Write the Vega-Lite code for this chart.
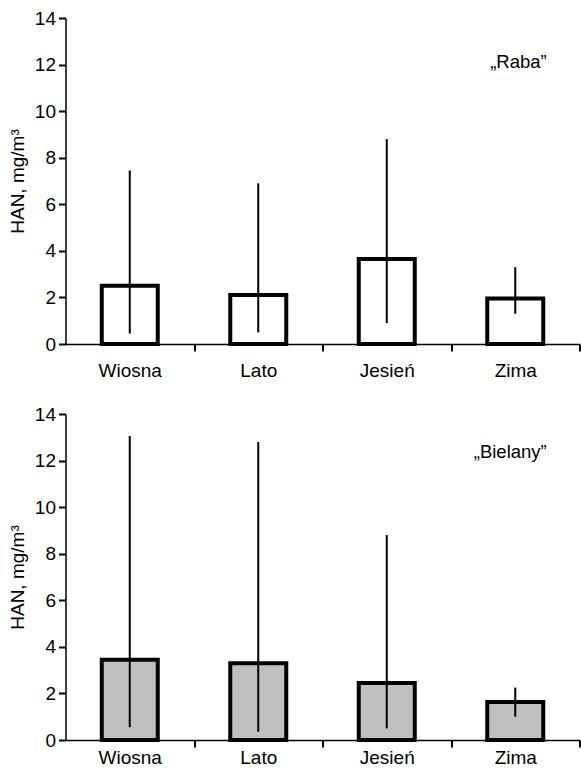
{
  "$schema": "https://vega.github.io/schema/vega-lite/v6.json",
  "padding": {"left": 7.5, "top": 9, "right": 0, "bottom": 0},
  "spacing": 25,
  "background": "white",
  "config": {
    "font": "Liberation Sans",
    "view": {"stroke": "transparent", "strokeWidth": 0},
    "axis": {
      "labelFont": "Liberation Sans",
      "titleFont": "Liberation Sans",
      "labelFontSize": 19,
      "titleFontSize": 19,
      "titleFontWeight": "normal",
      "labelColor": "black",
      "titleColor": "black",
      "domainColor": "black",
      "tickColor": "black",
      "domainWidth": 1.5,
      "tickWidth": 2,
      "tickSize": 7,
      "grid": false
    }
  },
  "datasets": {
    "raba": [
      {"season": "Wiosna", "mean": 2.5, "low": 0.45, "high": 7.45},
      {"season": "Lato", "mean": 2.1, "low": 0.5, "high": 6.9},
      {"season": "Jesień", "mean": 3.65, "low": 0.9, "high": 8.8},
      {"season": "Zima", "mean": 1.95, "low": 1.3, "high": 3.3}
    ],
    "bielany": [
      {"season": "Wiosna", "mean": 3.45, "low": 0.55, "high": 13.05},
      {"season": "Lato", "mean": 3.3, "low": 0.35, "high": 12.8},
      {"season": "Jesień", "mean": 2.45, "low": 0.5, "high": 8.8},
      {"season": "Zima", "mean": 1.63, "low": 1.0, "high": 2.25}
    ],
    "labelRaba": [{"season": "Zima", "y": 12.1, "label": "„Raba”"}],
    "labelBielany": [{"season": "Zima", "y": 12.35, "label": "„Bielany”"}]
  },
  "vconcat": [
    {
      "width": 514,
      "height": 326,
      "layer": [
        {
          "data": {"name": "raba"},
          "mark": {"type": "bar", "size": 56, "fill": "white", "stroke": "black", "strokeWidth": 4},
          "encoding": {
            "x": {"field": "season", "type": "nominal", "sort": null, "title": null,
                  "axis": {"labelAngle": 0, "labelPadding": 10, "tickOffset": 64.25, "labelOffset": -64.25}},
            "y": {"field": "mean", "type": "quantitative", "title": "HAN, mg/m³",
                  "scale": {"domain": [0, 14]},
                  "axis": {"values": [0, 2, 4, 6, 8, 10, 12, 14], "labelPadding": 3, "titlePadding": 6.5, "minExtent": 32, "maxExtent": 32}}
          }
        },
        {
          "data": {"name": "raba"},
          "mark": {"type": "rule", "color": "black", "strokeWidth": 2},
          "encoding": {
            "x": {"field": "season", "type": "nominal", "sort": null},
            "y": {"field": "low", "type": "quantitative"},
            "y2": {"field": "high"}
          }
        },
        {
          "mark": {"type": "rule", "color": "black", "strokeWidth": 1.5},
          "encoding": {"y": {"datum": 14}}
        },
        {
          "data": {"name": "labelRaba"},
          "mark": {"type": "text", "align": "right", "dx": 31.5, "fontSize": 18.5, "font": "Liberation Sans", "color": "black"},
          "encoding": {
            "x": {"field": "season", "type": "nominal", "sort": null},
            "y": {"field": "y", "type": "quantitative"},
            "text": {"field": "label"}
          }
        }
      ]
    },
    {
      "width": 514,
      "height": 326,
      "layer": [
        {
          "data": {"name": "bielany"},
          "mark": {"type": "bar", "size": 56, "fill": "#c0c0c0", "stroke": "black", "strokeWidth": 4},
          "encoding": {
            "x": {"field": "season", "type": "nominal", "sort": null, "title": null,
                  "axis": {"labelAngle": 0, "labelPadding": 1, "tickOffset": 64.25, "labelOffset": -64.25}},
            "y": {"field": "mean", "type": "quantitative", "title": "HAN, mg/m³",
                  "scale": {"domain": [0, 14]},
                  "axis": {"values": [0, 2, 4, 6, 8, 10, 12, 14], "labelPadding": 3, "titlePadding": 6.5, "minExtent": 32, "maxExtent": 32}}
          }
        },
        {
          "data": {"name": "bielany"},
          "mark": {"type": "rule", "color": "black", "strokeWidth": 2},
          "encoding": {
            "x": {"field": "season", "type": "nominal", "sort": null},
            "y": {"field": "low", "type": "quantitative"},
            "y2": {"field": "high"}
          }
        },
        {
          "mark": {"type": "rule", "color": "black", "strokeWidth": 1.5},
          "encoding": {"y": {"datum": 14}}
        },
        {
          "data": {"name": "labelBielany"},
          "mark": {"type": "text", "align": "right", "dx": 31.5, "fontSize": 18.5, "font": "Liberation Sans", "color": "black"},
          "encoding": {
            "x": {"field": "season", "type": "nominal", "sort": null},
            "y": {"field": "y", "type": "quantitative"},
            "text": {"field": "label"}
          }
        }
      ]
    }
  ]
}
